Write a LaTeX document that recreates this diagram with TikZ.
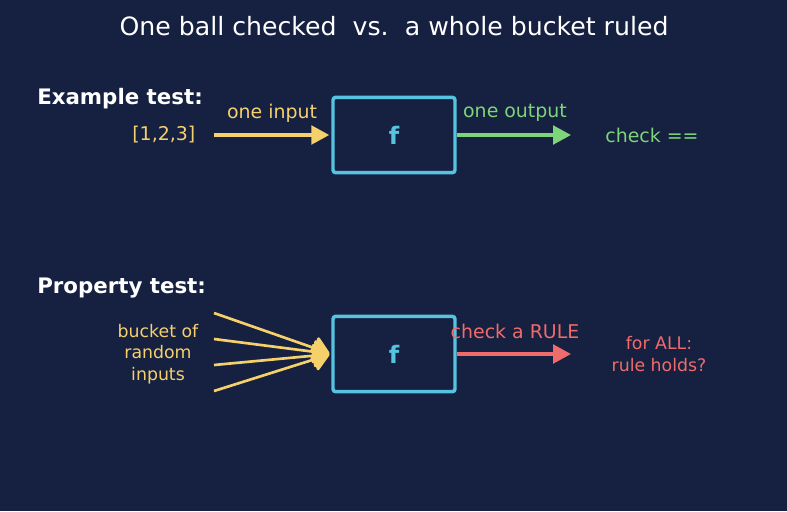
\documentclass[tikz,border=0pt]{standalone}
\usepackage{fontspec}
\setmainfont{DejaVu Sans}
\usetikzlibrary{arrows.meta}
\definecolor{bg}{HTML}{162040}
\definecolor{ylw}{HTML}{F5D06B}
\definecolor{grn}{HTML}{7ED47A}
\definecolor{rd}{HTML}{F06B6B}
\definecolor{cyn}{HTML}{56C3E0}
\begin{document}
\begin{tikzpicture}[x=0.75pt,y=-0.75pt,
  fbox/.style={draw=cyn,line width=2.6pt,rounded corners=2pt,minimum width=91.5pt,minimum height=56.5pt,inner sep=0pt,text=cyn,font=\bfseries\fontsize{18}{20}\selectfont},
  lbl/.style={font=\fontsize{14.2}{16}\selectfont},
  small/.style={font=\fontsize{13}{16}\selectfont,align=center},
  head/.style={font=\bfseries\fontsize{16}{18}\selectfont,text=white,anchor=west,inner sep=0pt},
  arr/.style={line width=2.6pt,-{Triangle[length=13.5pt,width=14pt]}},
  fan/.style={line width=2pt,draw=ylw,shorten >=1.5pt,-{Triangle[round,length=13pt,width=19pt]}}]
\fill[bg] (0,0) rectangle (787,511);
\useasboundingbox (0,0) rectangle (787,511);
\node[text=white,font=\fontsize{18.9}{22}\selectfont] (title) at (394,26) {One ball checked\ \ vs.\ \ a whole bucket ruled};
% Example test
\node[head] (ex) at (37,99) {Example test:};
\node[lbl,text=ylw,anchor=east] (in1) at (200,135) {[1,2,3]};
\coordinate (s1) at (214,135);
\node[fbox] (f1) at (394,135) {f};
\coordinate (e1) at (571,135);
\draw[arr,draw=ylw,fill=ylw,shorten >=1.5pt] (s1) -- (f1.west);
\node[lbl,text=ylw] (l1) at (272,113) {one input};
\draw[arr,draw=grn,fill=grn] (f1.east) -- (e1);
\node[lbl,text=grn] (l2) at (515,113) {one output};
\node[lbl,text=grn] (c1) at (652,135) {check ==};
% Property test
\node[head] (pr) at (37,288) {Property test:};
\node[small,text=ylw] (bk) at (158,354) {bucket of\\random\\inputs};
\node[fbox] (f2) at (394,354) {f};
\coordinate (a1) at (214,313);
\coordinate (a2) at (214,339);
\coordinate (a3) at (214,365);
\coordinate (a4) at (214,391);
\foreach \c in {a1,a2,a3,a4} \draw[fan,fill=ylw] (\c) -- (f2.west);
\coordinate (e2) at (571,354);
\draw[arr,draw=rd,fill=rd] (f2.east) -- (e2);
\node[lbl,text=rd] (l3) at (515,331) {check a RULE};
\node[small,text=rd] (c2) at (659,354) {for ALL:\\rule holds?};
\end{tikzpicture}
\end{document}
